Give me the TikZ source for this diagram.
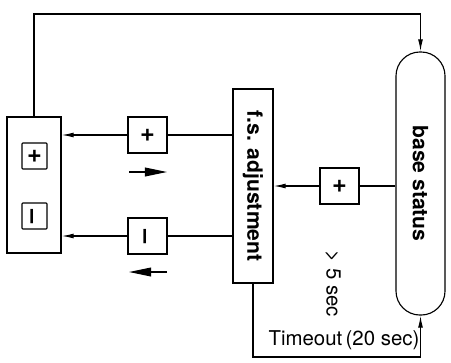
\documentclass[tikz,border=0pt]{standalone}
\usepackage{fontspec}
\setmainfont{TeX Gyre Heros}
\usetikzlibrary{arrows.meta,positioning}
\tikzset{
  panelbox/.style={draw,line width=0.8pt,minimum width=1.35cm,minimum height=3.4cm},
  smallkey/.style={draw,line width=0.8pt,rounded corners=0.6pt,inner sep=0pt,
    minimum width=0.625cm,minimum height=0.65cm,font=\fontsize{18}{20}\selectfont\bfseries},
  keybox/.style={draw,line width=0.8pt,inner sep=0pt,
    minimum width=0.975cm,minimum height=0.9cm,font=\fontsize{18}{20}\selectfont\bfseries},
  adjbox/.style={draw,line width=0.8pt,inner sep=0pt,
    minimum width=1.0cm,minimum height=4.85cm,font=\fontsize{15}{17}\selectfont\bfseries},
  statusbox/.style={draw,line width=0.8pt,rounded corners=0.6cm,inner sep=0pt,
    minimum width=1.225cm,minimum height=6.575cm,font=\fontsize{15}{17}\selectfont\bfseries},
  plaintext/.style={inner sep=0pt,font=\fontsize{14.5}{16}\selectfont},
  link/.style={line width=0.8pt,-{Latex[length=3mm,width=1.2mm]}},
  dirarrow/.style={line width=0.8pt,-{Triangle[length=5.5mm,width=2.2mm]}},
}

\begin{document}
\begin{tikzpicture}[x=0.025cm,y=-0.025cm]
\useasboundingbox (0,0) rectangle (451,362);
\node[panelbox] (panel) at (34,185) {};
\node[smallkey] (panelplus) at (34.5,156) {+};
\node[smallkey] (panelminus) at (34.5,216) {\rotatebox{90}{\textendash}};
\node[keybox] (plusbtn) at (147.5,135) {+};
\node[keybox] (minusbtn) at (147.5,236) {\rotatebox{90}{\textendash}};
\node[adjbox] (adjust) at (253,186) {\rotatebox{-90}{f.s. adjustment}};
\node[keybox] (plusdel) at (339.5,186) {+};
\node[statusbox] (status) at (420.5,183.5) {\rotatebox{-90}{base status}};
\node[plaintext] (wait) at (333,284) {\rotatebox{-90}{> 5 sec}};
\node[plaintext] (timeout) at (344,340) {Timeout\,(20 sec)};
\coordinate (topbend) at (420.5,14);
\coordinate (lowbend) at (420.5,357);
\coordinate (fwdA) at (129,172);
\coordinate (fwdB) at (167,172);
\coordinate (backA) at (167,272);
\coordinate (backB) at (129,272);
% panel keys
\draw[line width=0.8pt] (adjust.west |- plusbtn) -- (plusbtn);
\draw[link] (plusbtn) -- (panel.east |- plusbtn);
\draw[line width=0.8pt] (adjust.west |- minusbtn) -- (minusbtn);
\draw[link] (minusbtn) -- (panel.east |- minusbtn);
\draw[dirarrow] (fwdA) -- (fwdB);
\draw[dirarrow] (backA) -- (backB);
% status side
\draw[line width=0.8pt] (status.west |- plusdel) -- (plusdel);
\draw[link] (plusdel) -- (adjust.east |- plusdel);
\draw[link] (panel.north) |- (topbend) -- (status.north);
\draw[link] (adjust.south) |- (lowbend) -- (status.south);
\end{tikzpicture}
\end{document}
